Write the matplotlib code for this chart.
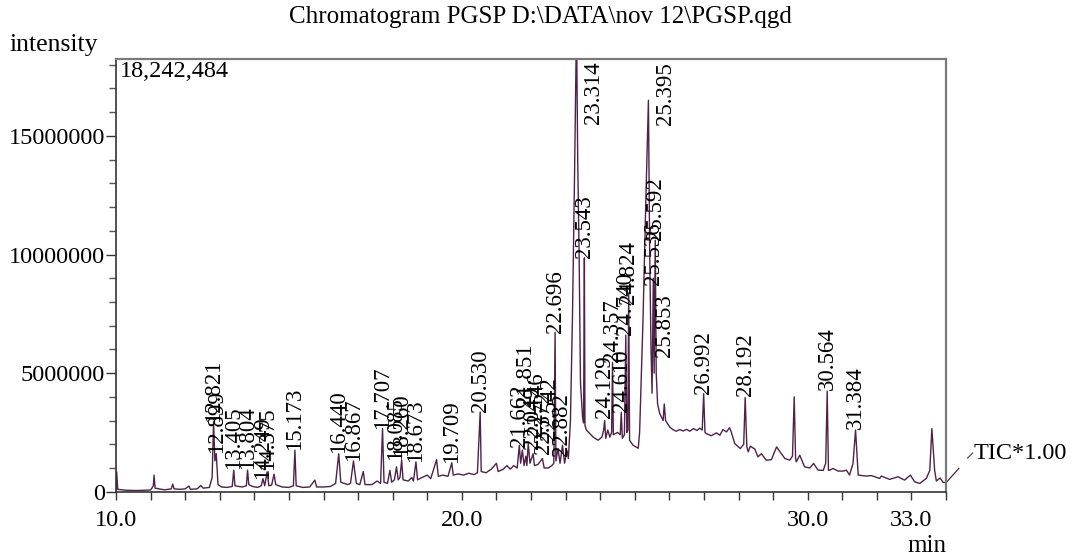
import numpy as np
import matplotlib
matplotlib.use("Agg")
import matplotlib.pyplot as plt
from matplotlib.ticker import MultipleLocator, FixedLocator
from matplotlib.transforms import offset_copy

plt.rcParams['font.family'] = ['Liberation Serif', 'DejaVu Serif']

# TIC trace, retention time (min) and intensity (millions of counts)
trace_t = [10.00, 10.02, 10.05, 10.30, 10.60, 11.00, 11.08, 11.10, 11.13, 11.40,
           11.60, 11.64, 11.68, 11.85, 12.00, 12.11, 12.15, 12.35, 12.45, 12.52,
           12.70, 12.78, 12.821, 12.86, 12.899, 12.95, 13.05, 13.20, 13.36, 13.405,
           13.44, 13.55, 13.65, 13.77, 13.804, 13.84, 13.95, 14.10, 14.20, 14.249,
           14.30, 14.37, 14.42, 14.50, 14.57, 14.62, 14.80, 15.00, 15.13, 15.173,
           15.21, 15.40, 15.60, 15.75, 15.80, 16.00, 16.20, 16.35, 16.44, 16.50,
           16.70, 16.78, 16.867, 16.90, 16.95, 17.05, 17.15, 17.20, 17.40, 17.55,
           17.65, 17.707, 17.75, 17.85, 17.92, 17.97, 18.05, 18.11, 18.16, 18.21,
           18.26, 18.30, 18.45, 18.55, 18.60, 18.673, 18.72, 18.85, 19.00, 19.10,
           19.27, 19.32, 19.45, 19.60, 19.709, 19.75, 19.90, 20.05, 20.20, 20.35,
           20.45, 20.53, 20.56, 20.70, 20.85, 21.00, 21.05, 21.20, 21.30, 21.40,
           21.50, 21.60, 21.662, 21.70, 21.75, 21.80, 21.851, 21.88, 21.92, 21.97,
           22.06, 22.10, 22.20, 22.33, 22.38, 22.50, 22.60, 22.66, 22.696, 22.72,
           22.78, 22.84, 22.91, 22.97, 23.04, 23.08, 23.14, 23.20, 23.26, 23.30,
           23.314, 23.35, 23.39, 23.43, 23.49, 23.52, 23.543, 23.56, 23.60, 23.80,
           23.94, 24.05, 24.10, 24.129, 24.16, 24.22, 24.28, 24.33, 24.357, 24.38,
           24.50, 24.58, 24.61, 24.64, 24.70, 24.74, 24.77, 24.80, 24.824, 24.85,
           24.95, 25.10, 25.14, 25.24, 25.32, 25.395, 25.43, 25.47, 25.50, 25.536,
           25.56, 25.592, 25.62, 25.66, 25.72, 25.82, 25.853, 25.89, 26.01, 26.10,
           26.20, 26.30, 26.40, 26.50, 26.59, 26.70, 26.80, 26.88, 26.95, 26.992,
           27.03, 27.07, 27.21, 27.36, 27.46, 27.55, 27.65, 27.74, 27.79, 27.89,
           28.05, 28.15, 28.192, 28.24, 28.28, 28.34, 28.47, 28.56, 28.66,
           28.80, 28.95, 29.10, 29.19, 29.34, 29.48, 29.56, 29.61, 29.65, 29.67,
           29.77, 29.91, 30.06, 30.17, 30.30, 30.45, 30.52, 30.564, 30.60, 30.64,
           30.73, 30.88, 31.03, 31.12, 31.21, 31.31, 31.384, 31.46, 31.69, 31.84,
           32.08, 32.13, 32.37, 32.61, 32.80, 32.97, 33.09, 33.24, 33.43, 33.53,
           33.59, 33.67, 33.72, 33.83, 33.91, 34.00]
trace_i = [0.10, 0.84, 0.10, 0.06, 0.05, 0.07, 0.25, 0.70, 0.15, 0.08,
           0.12, 0.32, 0.12, 0.10, 0.12, 0.24, 0.10, 0.12, 0.26, 0.15,
           0.18, 0.60, 2.95, 1.30, 1.60, 0.30, 0.20, 0.18, 0.22, 0.91,
           0.25, 0.22, 0.20, 0.25, 0.91, 0.30, 0.22, 0.18, 0.25, 0.55,
           0.25, 0.84, 0.25, 0.28, 0.74, 0.30, 0.20, 0.18, 0.25, 1.75,
           0.25, 0.18, 0.20, 0.49, 0.20, 0.20, 0.22, 0.35, 1.60, 0.40,
           0.30, 0.35, 1.30, 0.90, 0.35, 0.30, 0.85, 0.30, 0.30, 0.45,
           0.35, 2.66, 0.40, 0.35, 0.90, 0.40, 0.50, 1.05, 0.50, 0.60,
           1.33, 0.50, 0.45, 0.60, 0.45, 1.26, 0.50, 0.60, 0.70, 0.55,
           1.35, 0.65, 0.70, 0.65, 1.22, 0.70, 0.75, 0.70, 0.78, 0.72,
           0.80, 3.36, 0.85, 0.80, 0.95, 1.20, 0.85, 0.95, 1.10, 0.95,
           1.10, 1.00, 1.96, 1.20, 1.75, 1.10, 1.50, 1.10, 2.03, 1.20,
           1.60, 1.10, 1.15, 1.40, 1.00, 1.00, 1.10, 1.20, 6.72, 1.30,
           1.82, 1.20, 1.96, 1.20, 1.75, 1.40, 3.00, 7.50, 13.5, 18.0,
           20.0, 14.0, 10.1, 4.60, 3.15, 2.90, 9.86, 2.80, 2.60, 2.30,
           2.17, 2.30, 2.60, 3.00, 2.25, 2.60, 2.30, 2.50, 5.45, 2.40,
           2.50, 2.40, 3.35, 2.25, 2.40, 6.60, 2.50, 2.60, 8.35, 2.17,
           1.96, 1.83, 2.50, 7.35, 12.3, 16.5, 10.2, 6.00, 4.15, 9.00,
           5.00, 10.6, 5.00, 3.70, 3.30, 3.00, 3.70, 3.00, 2.73, 2.62,
           2.55, 2.62, 2.56, 2.63, 2.55, 2.66, 2.58, 2.68, 2.60, 4.13,
           2.50, 2.45, 2.36, 2.48, 2.38, 2.62, 2.52, 2.70, 2.52, 2.03,
           1.82, 2.00, 3.97, 1.90, 1.68, 1.92, 1.80, 1.47, 1.60,
           1.33, 1.35, 1.89, 1.70, 1.40, 1.33, 1.50, 4.00, 1.40, 1.26,
           1.54, 1.05, 1.00, 1.19, 0.91, 0.90, 1.20, 4.24, 0.90, 0.91,
           0.98, 0.87, 0.87, 0.91, 0.70, 1.19, 2.60, 0.70, 0.66, 0.68,
           0.56, 0.66, 0.52, 0.63, 0.49, 0.70, 0.42, 0.35, 0.56, 0.90,
           2.66, 0.91, 0.45, 0.58, 0.40, 0.38]

# labelled peaks: retention time and intensity (millions) where the label sits
peak_rt = [12.821, 12.899, 13.405, 13.804, 14.249, 14.375, 15.173, 16.440, 16.867,
           17.707, 18.085, 18.260, 18.673, 19.709, 20.530, 21.662, 21.851, 22.049,
           22.146, 22.372, 22.542, 22.696, 22.882, 23.314, 23.543, 24.129, 24.357,
           24.610, 24.740, 24.824, 25.395, 25.536, 25.592, 25.853, 26.992, 28.192,
           30.564, 31.384]
peak_lab_i = [2.95, 1.65, 0.95, 0.95, 0.55, 0.90, 1.75, 1.62, 1.28,
              2.66, 1.35, 1.50, 1.26, 1.22, 3.36, 1.90, 3.60, 1.80,
              2.40, 1.60, 2.20, 6.70, 1.50, 20.0, 9.86, 3.10, 5.45,
              3.35, 6.60, 7.90, 16.5, 8.70, 10.6, 5.70, 4.13, 4.05,
              4.27, 2.65]

y_max = 18242484
x_min, x_max = 10.0, 34.0
x_tick_vals = [10.0, 20.0, 30.0, 33.0]

line_col = '#4e2249'

fig = plt.figure(figsize=(10.72, 5.58), dpi=100)
ax = fig.add_axes([0.1082, 0.1188, 0.7743, 0.7755])

t = np.array(trace_t)
y = np.array(trace_i) * 1e6
ax.plot(t, y, color=line_col, lw=1.0)

ax.set_xlim(x_min, x_max)
ax.set_ylim(0, y_max)

ax.xaxis.set_major_locator(FixedLocator(x_tick_vals))
ax.xaxis.set_minor_locator(MultipleLocator(1.0))
ax.set_xticklabels(['%.1f' % v for v in x_tick_vals])
ax.yaxis.set_major_locator(MultipleLocator(5000000))
ax.yaxis.set_minor_locator(MultipleLocator(1000000))
ax.yaxis.set_major_formatter(plt.FuncFormatter(lambda v, p: '%d' % v))
ax.tick_params(axis='both', which='both', direction='out', labelsize=17.5,
               color='#333333', labelcolor='black')
ax.tick_params(axis='y', which='major', length=7, pad=1, width=1)
ax.tick_params(axis='y', which='minor', length=5, width=1, color='#555555')
ax.tick_params(axis='x', which='both', length=6, width=1, pad=7)

for s in ['top', 'right']:
    ax.spines[s].set_color('#7a7a7a')
    ax.spines[s].set_linewidth(1.6)
for s in ['left', 'bottom']:
    ax.spines[s].set_color('#333333')
    ax.spines[s].set_linewidth(1.2)

# peak labels; the ones that would run off the top are pinned to the top edge
lab_len = 2.75e6
for rt, li in zip(peak_rt, peak_lab_i):
    txt = '%.3f' % rt
    yi = li * 1e6
    if yi + lab_len > y_max:
        tr = offset_copy(ax.transData, fig=fig, x=0, y=-2, units='points')
        ax.text(rt + 0.5, y_max, txt, rotation=90, ha='center', va='top',
                fontsize=16.5, transform=tr)
    else:
        ax.text(rt, yi, txt, rotation=90, ha='center', va='bottom', fontsize=16.5)

ax.text(0.005, 0.995, '18,242,484', transform=ax.transAxes, ha='left', va='top', fontsize=17.5)

# TIC leader line off the right edge
ax.plot([t[-1], 34.37], [y[-1], 0.98e6], color=line_col, lw=0.9, clip_on=False)
ax.plot([34.62, 34.77], [1.42e6, 1.63e6], color='#555555', lw=0.9, clip_on=False)
ax.text(34.8, 1.6e6, 'TIC*1.00', ha='left', va='center', fontsize=17.5, clip_on=False)

fig.text(10 / 1072, 1 - 45 / 558, 'intensity', ha='left', va='center', fontsize=18.5)
fig.text(540 / 1072, 1 - 17 / 558, 'Chromatogram PGSP D:\\DATA\\nov 12\\PGSP.qgd',
         ha='center', va='center', fontsize=18)
fig.text(946 / 1072, 1 - 546 / 558, 'min', ha='right', va='center', fontsize=18)

fig.savefig('out.png', dpi=100)
